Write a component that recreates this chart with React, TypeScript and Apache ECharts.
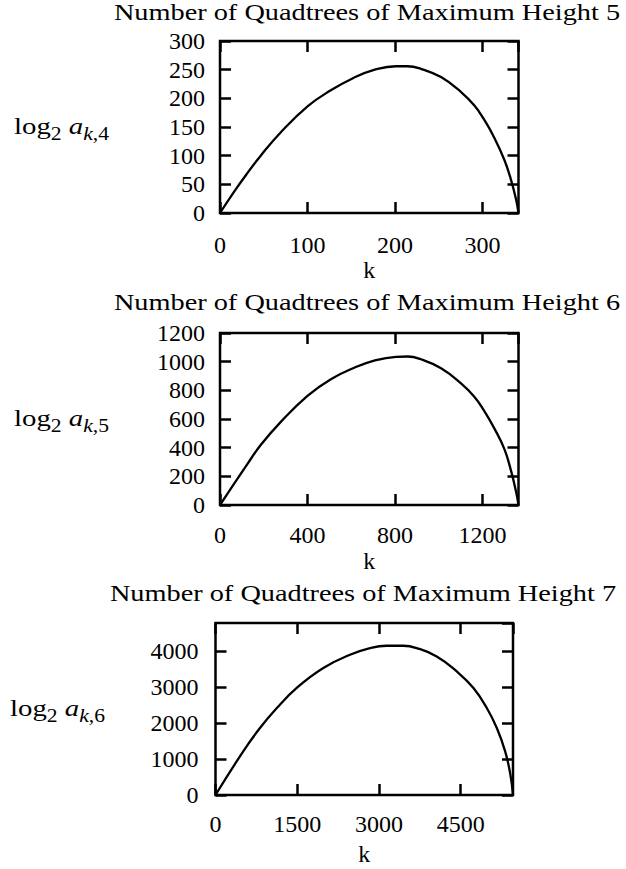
import React, { useEffect, useRef } from "react";
import * as echarts from "echarts";

// ---- data ----
const titles = [
  "Number of Quadtrees of Maximum Height 5",
  "Number of Quadtrees of Maximum Height 6",
  "Number of Quadtrees of Maximum Height 7",
];
const yNameSubs = ["4", "5", "6"];

const k5 = [0, 16, 31, 46.5, 69, 100, 126.6, 153, 176, 201, 214, 229.6, 252.5, 275.4, 290.6, 301.3, 313.5, 325, 332.6, 338.3, 341];
const v5 = [0, 37, 69, 100, 140, 186, 214, 236, 249.5, 256, 256, 251.5, 237, 211, 187.5, 164, 131, 92, 57, 23, 0];

const k6 = [0, 125, 187, 278, 400, 507, 614, 705, 805, 858, 919, 1011, 1102, 1163, 1206, 1255, 1301, 1331, 1354, 1365];
const v6 = [0, 285, 420, 580, 762, 878, 958, 1008, 1034, 1036, 1017, 954, 849, 756, 662, 533, 388, 238, 92, 0];

const k7 = [0, 509, 816, 1122, 1501, 1979, 2469, 2836, 3142, 3449, 3694, 4061, 4428, 4735, 4980, 5164, 5317, 5409, 5461];
const v7 = [0, 1213, 1861, 2410, 2990, 3530, 3898, 4083, 4148, 4148, 4083, 3852, 3435, 2972, 2417, 1861, 1213, 600, 0];

const xMax = [341, 1365, 5461];
const xInterval = [100, 400, 1500];
const yMax = [300, 1200, 4780];
const yInterval = [50, 200, 1000];
const yShowMax = [true, true, false];

const FONT = '"Liberation Serif", "Times New Roman", Times, "DejaVu Serif", serif';

export default function App() {
  const ref = useRef<HTMLDivElement>(null);
  useEffect(() => {
    if (!ref.current) return;
    const chart = echarts.init(ref.current, undefined, { renderer: "svg" });

    const grids = [
      { left: 220, top: 41, width: 298.5, height: 172 },
      { left: 220, top: 333, width: 298.5, height: 172 },
      { left: 215.5, top: 623, width: 297.5, height: 172 },
    ];
    const labelMarginX = [20, 18, 17];
    const labelMarginY = [15, 15, 17];
    const nameGaps = [43, 44, 47];
    const titleY = [12, 302, 593];
    const titleX = [367, 367, 363];
    const yNameY = [126, 418, 708];
    const yNameX = [14, 14, 10];

    const seriesK = [k5, k6, k7];
    const seriesV = [v5, v6, v7];

    const tick = { show: true, inside: true, length: 11, lineStyle: { color: "#000", width: 2.5 } };
    const labelStyle = { fontFamily: FONT, fontSize: 24, color: "#000" };
    const plain = (v: number) => String(v);
    const hiddenLine = { show: false, onZero: false };

    const xAxis: any[] = [];
    const yAxis: any[] = [];
    const series: any[] = [];
    for (let i = 0; i < 3; i++) {
      xAxis.push({
        type: "value", gridIndex: i, position: "bottom", min: 0, max: xMax[i], interval: xInterval[i],
        axisLine: hiddenLine, axisTick: tick, splitLine: { show: false },
        axisLabel: { ...labelStyle, margin: labelMarginX[i], showMaxLabel: false, formatter: plain },
        name: "k", nameLocation: "middle", nameGap: nameGaps[i], nameTextStyle: labelStyle,
      });
      xAxis.push({
        type: "value", gridIndex: i, position: "top", min: 0, max: xMax[i], interval: xInterval[i],
        axisLine: hiddenLine, axisTick: tick, splitLine: { show: false }, axisLabel: { show: false },
      });
      yAxis.push({
        type: "value", gridIndex: i, position: "left", min: 0, max: yMax[i], interval: yInterval[i],
        axisLine: hiddenLine, axisTick: tick, splitLine: { show: false },
        axisLabel: { ...labelStyle, margin: labelMarginY[i], showMaxLabel: yShowMax[i], formatter: plain },
      });
      yAxis.push({
        type: "value", gridIndex: i, position: "right", min: 0, max: yMax[i], interval: yInterval[i],
        axisLine: hiddenLine, axisTick: tick, splitLine: { show: false }, axisLabel: { show: false },
      });
      series.push({
        type: "line", xAxisIndex: 2 * i, yAxisIndex: 2 * i,
        data: seriesK[i].map((k, j) => [k, seriesV[i][j]]),
        showSymbol: false, smooth: 0.45, lineStyle: { color: "#000", width: 2.3 },
      });
    }

    const graphic: any[] = [];
    for (let i = 0; i < 3; i++) {
      graphic.push({
        type: "text", x: titleX[i], y: titleY[i], scaleX: 1.18, scaleY: 1,
        style: {
          text: titles[i], fontFamily: FONT, fontSize: 24, fill: "#000",
          align: "center", verticalAlign: "middle", textAlign: "center", textVerticalAlign: "middle",
        },
      });
      graphic.push({
        type: "text", x: yNameX[i], y: yNameY[i], scaleX: 1.2, scaleY: 1,
        style: {
          text: `{n|log}{s|2}{i|a}{si|k}{s|,${yNameSubs[i]}}`,
          fill: "#000",
          align: "left", verticalAlign: "middle", textAlign: "left", textVerticalAlign: "middle",
          rich: {
            n: { fontFamily: FONT, fontSize: 24, lineHeight: 32, color: "#000" },
            i: { fontFamily: FONT, fontSize: 24, fontStyle: "italic", lineHeight: 32, padding: [0, 0, 0, 6], color: "#000" },
            s: { fontFamily: FONT, fontSize: 18, lineHeight: 18, padding: [15, 0, 0, 0], color: "#000" },
            si: { fontFamily: FONT, fontSize: 18, fontStyle: "italic", lineHeight: 18, padding: [15, 0, 0, 0], color: "#000" },
          },
        },
      });
    }

    chart.setOption({
      animation: false,
      backgroundColor: "#fff",
      grid: grids.map((g) => ({ ...g, show: true, borderColor: "#000", borderWidth: 2.5, backgroundColor: "transparent", containLabel: false })),
      xAxis,
      yAxis,
      series,
      graphic,
    });
    return () => chart.dispose();
  }, []);
  return (
    <div
      ref={ref}
      style={{ position: "absolute", left: 0, top: 0, width: 626, height: 869, background: "#fff" }}
    />
  );
}
